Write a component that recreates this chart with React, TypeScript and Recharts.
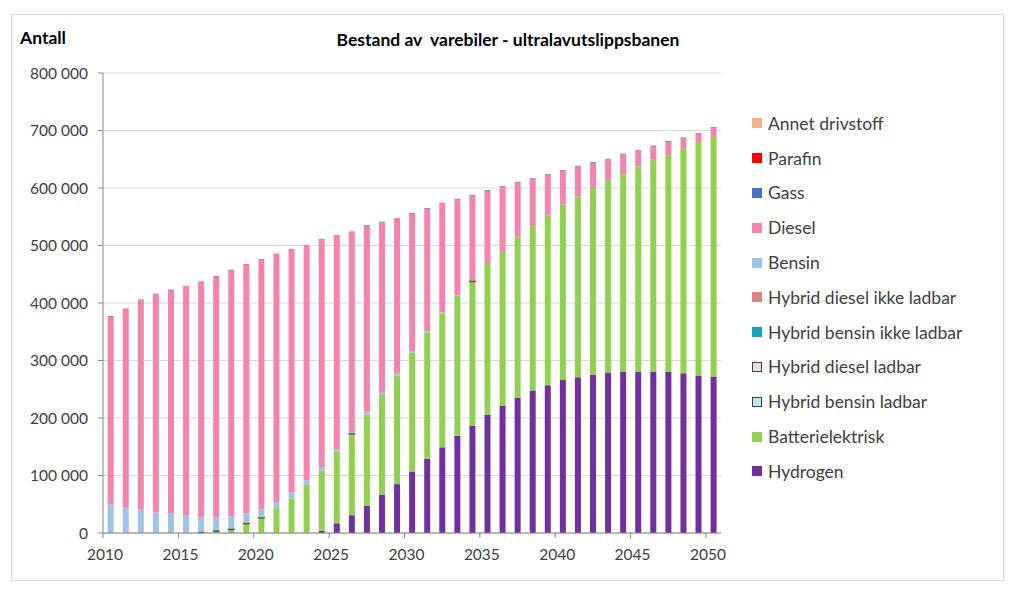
import { BarChart, Bar, XAxis, YAxis, CartesianGrid } from "recharts";

const years = [
  "2010", "2011", "2012", "2013", "2014", "2015", "2016", "2017", "2018", "2019",
  "2020", "2021", "2022", "2023", "2024", "2025", "2026", "2027", "2028", "2029",
  "2030", "2031", "2032", "2033", "2034", "2035", "2036", "2037", "2038", "2039",
  "2040", "2041", "2042", "2043", "2044", "2045", "2046", "2047", "2048", "2049", "2050",
];

const hydrogen = [
  0, 0, 0, 0, 0, 0, 0, 0, 0, 0,
  0, 0, 0, 0, 4000, 17000, 31000, 47500, 67000, 85000,
  107000, 129000, 149000, 169000, 187000, 206000, 221000, 235000, 248000, 257000,
  266000, 271000, 275000, 279000, 281000, 281000, 281000, 280000, 278000, 274000, 272000,
];

const battery = [
  0, 0, 0, 0, 0, 0, 500, 3000, 6000, 16000,
  26000, 43000, 60000, 83500, 104000, 124000, 141000, 158500, 173000, 189000,
  206500, 220000, 233000, 243000, 250000, 262000, 268000, 280000, 286000, 295000,
  305000, 314000, 325000, 335000, 343000, 357000, 368000, 377000, 391000, 406000, 417000,
];

const hybBensinLadbar = [
  0, 0, 0, 0, 0, 0, 0, 0, 0, 0,
  0, 0, 0, 0, 0, 0, 0, 0, 0, 0,
  0, 0, 0, 0, 0, 0, 0, 0, 0, 0,
  0, 0, 0, 0, 0, 0, 0, 0, 0, 0, 0,
];

const hybDieselLadbar = [
  0, 0, 0, 0, 0, 0, 1000, 1500, 1500, 1500,
  1500, 0, 0, 0, 0, 0, 1500, 0, 0, 0,
  0, 0, 0, 0, 1500, 0, 0, 0, 0, 0,
  0, 0, 0, 0, 0, 0, 0, 0, 0, 0, 0,
];

const hybBensinIkke = [
  0, 0, 0, 0, 0, 0, 0, 0, 0, 0,
  0, 0, 0, 0, 0, 0, 0, 0, 0, 0,
  0, 0, 0, 0, 0, 0, 0, 0, 0, 0,
  0, 0, 0, 0, 0, 0, 0, 0, 0, 0, 0,
];

const hybDieselIkke = [
  0, 0, 0, 0, 0, 0, 0, 0, 0, 0,
  0, 0, 0, 0, 0, 0, 0, 0, 0, 0,
  0, 0, 0, 0, 0, 0, 0, 0, 0, 0,
  0, 0, 0, 0, 0, 0, 0, 0, 0, 0, 0,
];

const bensin = [
  50000, 44000, 41000, 36000, 34000, 30000, 25500, 22500, 21000, 16500,
  13500, 9700, 10800, 8500, 7000, 4600, 1500, 5000, 4000, 4000,
  3000, 2000, 1500, 1000, 0, 0, 0, 0, 0, 0,
  0, 0, 0, 0, 0, 0, 0, 0, 0, 0, 0,
];

const diesel = [
  326000, 345000, 364000, 379000, 388000, 400000, 411000, 419000, 428000, 433000,
  434000, 432000, 422000, 409000, 395000, 371000, 350000, 323000, 296000, 268000,
  239000, 213000, 190000, 167000, 148000, 127000, 113000, 94500, 81500, 70500,
  58500, 52500, 43500, 35500, 34500, 26500, 23500, 23500, 17500, 14000, 15500,
];

const gass = [
  1200, 0, 1200, 1200, 1200, 0, 0, 1200, 1200, 0,
  1200, 0, 0, 0, 0, 0, 0, 1200, 1200, 0,
  1200, 1200, 0, 1200, 1200, 1200, 0, 1200, 1200, 1200,
  1200, 1200, 1200, 1200, 1200, 1200, 1200, 1200, 1200, 1200, 1200,
];

const parafin = [
  0, 800, 0, 0, 0, 0, 0, 0, 0, 800,
  0, 800, 800, 0, 800, 800, 0, 0, 0, 800,
  0, 0, 800, 0, 0, 0, 800, 0, 0, 0,
  0, 0, 0, 0, 0, 0, 0, 0, 0, 0, 0,
];

const annet = [
  0, 0, 0, 0, 0, 0, 0, 0, 0, 0,
  0, 0, 0, 0, 0, 0, 0, 0, 0, 0,
  0, 0, 0, 0, 0, 0, 0, 0, 0, 0,
  0, 0, 0, 0, 0, 0, 0, 0, 0, 0, 0,
];

const yTicks = [0, 100000, 200000, 300000, 400000, 500000, 600000, 700000, 800000];

// stack order, bottom first
const series = [
  { key: "hydrogen", name: "Hydrogen", values: hydrogen, color: "#7030A0" },
  { key: "battery", name: "Batterielektrisk", values: battery, color: "#92D050" },
  { key: "hybBensinLadbar", name: "Hybrid bensin ladbar", values: hybBensinLadbar, color: "#B7E8EE", stroke: "#404040" },
  { key: "hybDieselLadbar", name: "Hybrid diesel ladbar", values: hybDieselLadbar, color: "#F2DCDB", stroke: "#404040" },
  { key: "hybBensinIkke", name: "Hybrid bensin ikke ladbar", values: hybBensinIkke, color: "#1AA0BC" },
  { key: "hybDieselIkke", name: "Hybrid diesel ikke ladbar", values: hybDieselIkke, color: "#D9857E" },
  { key: "bensin", name: "Bensin", values: bensin, color: "#9DC3E6" },
  { key: "diesel", name: "Diesel", values: diesel, color: "#F484AE" },
  { key: "gass", name: "Gass", values: gass, color: "#4472C4" },
  { key: "parafin", name: "Parafin", values: parafin, color: "#FF0000" },
  { key: "annet", name: "Annet drivstoff", values: annet, color: "#F4B183" },
];

const data = years.map((year, i) => {
  const row: Record<string, string | number> = { year };
  series.forEach((s) => {
    row[s.key] = s.values[i];
  });
  return row;
});

const FONT = "Lato, 'Open Sans', sans-serif";
const TEXT = "#404040";

const fmt = (v: number) => String(v).replace(/\B(?=(\d{3})+(?!\d))/g, " ");

function YearTick(props: any) {
  const { x, y, payload } = props;
  const edge = x - 7.5;
  return (
    <g>
      <line x1={edge} y1={y} x2={edge} y2={y + 5} stroke="#868686" />
      <text x={edge + 2} y={y + 27} textAnchor="middle" fill={TEXT} fontSize={15.5} fontFamily={FONT}>
        {payload.value}
      </text>
    </g>
  );
}

function LegendList() {
  const items = [...series].reverse();
  return (
    <div style={{ fontFamily: FONT, fontSize: 17.5, color: TEXT }}>
      {items.map((s) => (
        <div key={s.key} style={{ display: "flex", alignItems: "center", height: 34.8 }}>
          <span
            style={{
              display: "inline-block",
              width: s.stroke ? 8 : 10,
              height: s.stroke ? 8 : 10,
              background: s.color,
              border: s.stroke ? `1px solid ${s.stroke}` : "none",
              marginRight: 6,
            }}
          />
          <span>{s.name}</span>
        </div>
      ))}
    </div>
  );
}

export default function App() {
  return (
    <div style={{ position: "absolute", left: 0, top: 0, width: 1024, height: 589, background: "#fff" }}>
      <div
        style={{
          position: "absolute",
          left: 11,
          top: 14,
          width: 991,
          height: 565,
          border: "1px solid #D9D9D9",
        }}
      />
      <div
        style={{
          position: "absolute",
          left: 20,
          top: 27,
          fontFamily: FONT,
          fontWeight: 700,
          fontSize: 17.5,
          color: "#000",
        }}
      >
        Antall
      </div>
      <div
        style={{
          position: "absolute",
          left: 0,
          width: 1016,
          top: 29,
          textAlign: "center",
          fontFamily: FONT,
          fontWeight: 700,
          fontSize: 17.5,
          color: "#000",
        }}
      >
        Bestand av&nbsp; varebiler - ultralavutslippsbanen
      </div>
      <BarChart
        width={1024}
        height={589}
        data={data}
        margin={{ top: 73, right: 303, bottom: 26, left: 13 }}
        barCategoryGap="31%"
        style={{ position: "absolute", left: 0, top: 0 }}
      >
        <CartesianGrid vertical={false} stroke="#D9D9D9" />
        <XAxis
          dataKey="year"
          interval={4}
          height={30}
          tickSize={0}
          tickMargin={0}
          tickLine={false}
          axisLine={{ stroke: "#868686" }}
          tick={<YearTick />}
        />
        <YAxis
          width={90}
          domain={[0, 800000]}
          ticks={yTicks}
          tickFormatter={fmt}
          tickSize={5}
          tickMargin={10}
          axisLine={{ stroke: "#868686" }}
          tickLine={{ stroke: "#868686" }}
          tick={{ fill: TEXT, fontSize: 15.5, fontFamily: FONT }}
        />
        {series.map((s) => (
          <Bar
            key={s.key}
            dataKey={s.key}
            name={s.name}
            stackId="a"
            fill={s.color}
            stroke={s.stroke}
            strokeWidth={s.stroke ? 1 : 0}
            isAnimationActive={false}
          />
        ))}
      </BarChart>
      <div style={{ position: "absolute", left: 752, top: 106, width: 260 }}>
        <LegendList />
      </div>
    </div>
  );
}
